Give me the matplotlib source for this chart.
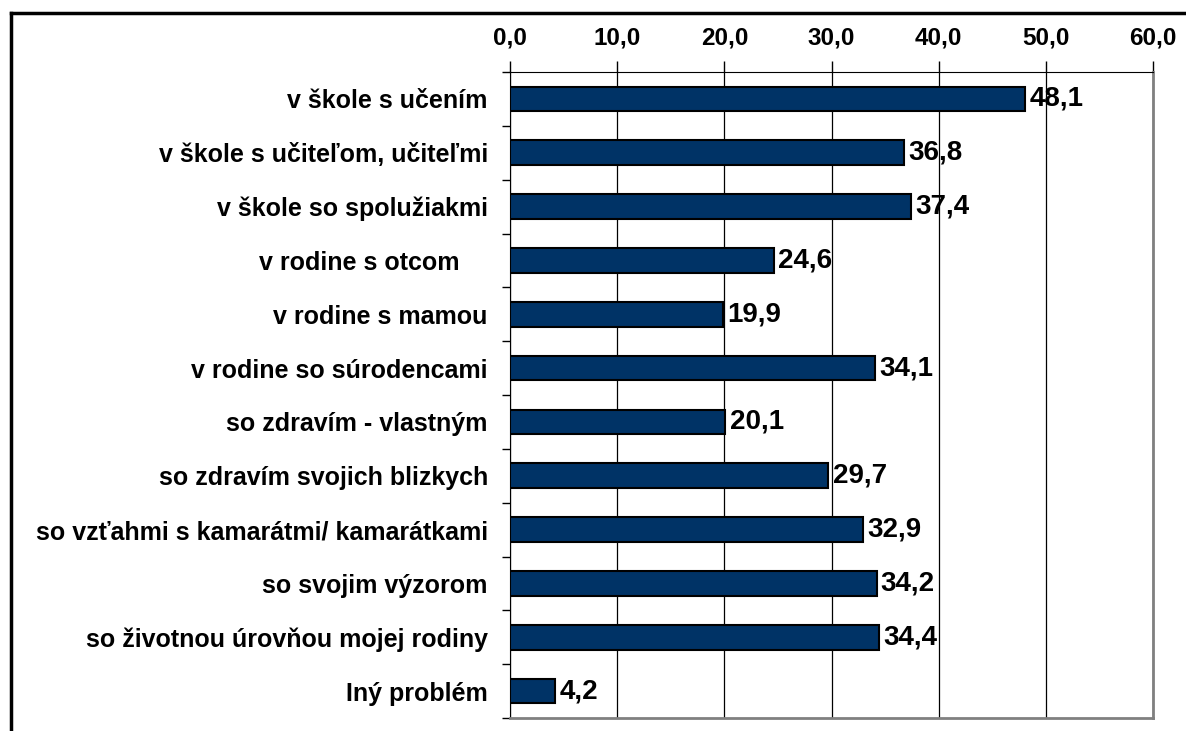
import matplotlib.pyplot as plt
from matplotlib.lines import Line2D
from matplotlib.ticker import FixedLocator, FuncFormatter

plt.rcParams['font.family'] = ['Liberation Sans', 'DejaVu Sans']

# kategórie problémov a podiel odpovedí (%)
categories = [
    'v škole s učením',
    'v škole s učiteľom, učiteľmi',
    'v škole so spolužiakmi',
    'v rodine s otcom    ',
    'v rodine s mamou',
    'v rodine so súrodencami',
    'so zdravím - vlastným',
    'so zdravím svojich blizkych',
    'so vzťahmi s kamarátmi/ kamarátkami',
    'so svojim výzorom',
    'so životnou úrovňou mojej rodiny',
    'Iný problém',
]
values = [48.1, 36.8, 37.4, 24.6, 19.9, 34.1, 20.1, 29.7, 32.9, 34.2, 34.4, 4.2]
x_ticks = [0, 10, 20, 30, 40, 50, 60]

fig = plt.figure(figsize=(11.86, 7.31), dpi=100)
ax = fig.add_axes([510 / 1186, 13 / 731, 643 / 1186, 646 / 731])

# outer frame of the chart (top and left edges visible)
fig.add_artist(Line2D([11 / 1186, 1.0], [1 - 13 / 731, 1 - 13 / 731],
                      transform=fig.transFigure, color='black', lw=2.5))
fig.add_artist(Line2D([11 / 1186, 11 / 1186], [0.0, 1 - 13 / 731],
                      transform=fig.transFigure, color='black', lw=2.5))

pos = list(range(len(categories)))
ax.barh(pos, values, height=0.46, color='#003366', edgecolor='black', lw=1.5, zorder=3)

for p, v in zip(pos, values):
    ax.text(v + 0.4, p, f'{v:.1f}'.replace('.', ','), va='center', ha='left',
            fontsize=20, fontweight='bold', zorder=4,
            family=['Liberation Sans Narrow', 'Liberation Sans'])

ax.set_xlim(0, 60)
ax.set_ylim(len(categories) - 0.5, -0.5)

ax.xaxis.tick_top()
ax.set_xticks(x_ticks)
ax.xaxis.set_major_formatter(FuncFormatter(lambda x, _: f'{x:.1f}'.replace('.', ',')))
ax.tick_params(axis='x', direction='out', length=8, width=1, pad=8,
               labelsize=17.5, color='black')
for lab in ax.get_xticklabels():
    lab.set_fontweight('bold')

ax.set_yticks(pos)
ax.set_yticklabels(categories, fontsize=18, fontweight='bold')
ax.tick_params(axis='y', which='major', length=0, pad=16)
ax.yaxis.set_minor_locator(FixedLocator([i - 0.5 for i in range(len(categories) + 1)]))
ax.tick_params(axis='y', which='minor', direction='out', length=6, width=1, color='black')

ax.grid(axis='x', color='black', lw=0.9, zorder=0)

ax.spines['top'].set_color('black')
ax.spines['left'].set_color('black')
ax.spines['right'].set_color('#808080')
ax.spines['bottom'].set_color('#808080')
ax.spines['right'].set_linewidth(2)
ax.spines['bottom'].set_linewidth(2)

fig.savefig('out.png', dpi=100)
